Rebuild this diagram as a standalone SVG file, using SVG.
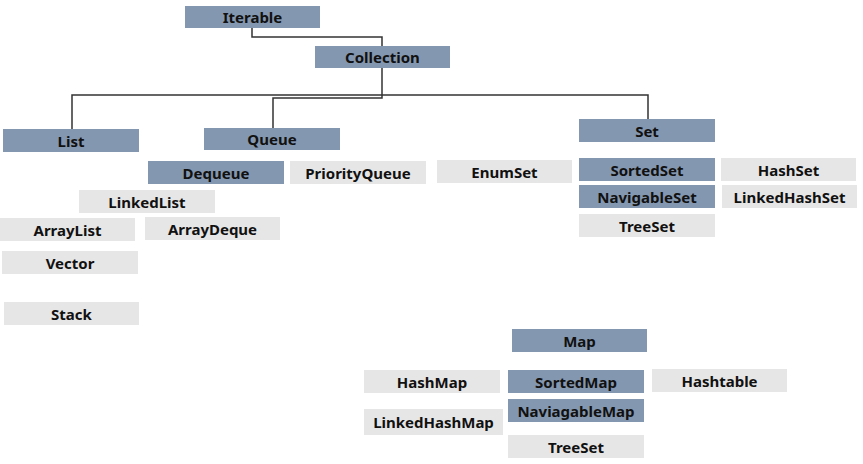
<svg xmlns="http://www.w3.org/2000/svg" width="863" height="464" viewBox="0 0 863 464">
<style>
.i{fill:#8497B0}
.c{fill:#E7E6E6}
text{font-family:"Noto Sans","Liberation Sans",sans-serif;font-weight:bold;font-size:15px;fill:#111;text-anchor:middle}
.ln{fill:none;stroke:#333;stroke-width:1.5}
</style>
<rect width="863" height="464" fill="#fff"/>
<g id="connectors">
<path class="ln" d="M252,28 V37 H382 V46"/>
<path class="ln" d="M382,68 V95"/>
<path class="ln" d="M72,129 V95 H648 V119"/>
<path class="ln" d="M382,95 V98 H273 V128"/>
</g>
<g id="Iterable"><rect class="i" x="185" y="6" width="135" height="22"/><text x="252.5" y="22.5">Iterable</text></g>
<g id="Collection"><rect class="i" x="315" y="46" width="135" height="22"/><text x="382.5" y="62.5">Collection</text></g>
<g id="List"><rect class="i" x="3" y="129" width="136" height="23"/><text x="71" y="146.5">List</text></g>
<g id="Queue"><rect class="i" x="204" y="128" width="136" height="22"/><text x="272" y="144.5">Queue</text></g>
<g id="Set"><rect class="i" x="579" y="119" width="136" height="23"/><text x="647" y="136.5">Set</text></g>
<g id="Dequeue"><rect class="i" x="148" y="161" width="136" height="23"/><text x="216" y="178.5">Dequeue</text></g>
<g id="PriorityQueue"><rect class="c" x="290" y="161" width="136" height="23"/><text x="358" y="178.5">PriorityQueue</text></g>
<g id="LinkedList"><rect class="c" x="79" y="190" width="136" height="23"/><text x="147" y="207.5">LinkedList</text></g>
<g id="ArrayList"><rect class="c" x="0" y="218" width="135" height="23"/><text x="67.5" y="235.5">ArrayList</text></g>
<g id="ArrayDeque"><rect class="c" x="145" y="217" width="135" height="23"/><text x="212.5" y="234.5">ArrayDeque</text></g>
<g id="Vector"><rect class="c" x="2" y="251" width="136" height="23"/><text x="70" y="268.5">Vector</text></g>
<g id="Stack"><rect class="c" x="4" y="302" width="135" height="23"/><text x="71.5" y="319.5">Stack</text></g>
<g id="EnumSet"><rect class="c" x="437" y="160" width="135" height="23"/><text x="504.5" y="177.5">EnumSet</text></g>
<g id="SortedSet"><rect class="i" x="579" y="158" width="136" height="23"/><text x="647" y="175.5">SortedSet</text></g>
<g id="HashSet"><rect class="c" x="721" y="158" width="135" height="23"/><text x="788.5" y="175.5">HashSet</text></g>
<g id="NavigableSet"><rect class="i" x="579" y="185" width="136" height="23"/><text x="647" y="202.5">NavigableSet</text></g>
<g id="LinkedHashSet"><rect class="c" x="722" y="185" width="135" height="23"/><text x="789.5" y="202.5">LinkedHashSet</text></g>
<g id="TreeSet"><rect class="c" x="579" y="214" width="136" height="23"/><text x="647" y="231.5">TreeSet</text></g>
<g id="Map"><rect class="i" x="512" y="329" width="135" height="23"/><text x="579.5" y="346.5">Map</text></g>
<g id="HashMap"><rect class="c" x="364" y="370" width="136" height="23"/><text x="432" y="387.5">HashMap</text></g>
<g id="SortedMap"><rect class="i" x="508" y="370" width="136" height="23"/><text x="576" y="387.5">SortedMap</text></g>
<g id="Hashtable"><rect class="c" x="652" y="369" width="135" height="23"/><text x="719.5" y="386.5">Hashtable</text></g>
<g id="NaviagableMap"><rect class="i" x="508" y="399" width="136" height="23"/><text x="576" y="416.5">NaviagableMap</text></g>
<g id="LinkedHashMap"><rect class="c" x="364" y="409" width="139" height="26"/><text x="433.5" y="427.5">LinkedHashMap</text></g>
<g id="TreeSet2"><rect class="c" x="508" y="435" width="136" height="23"/><text x="576" y="452.5">TreeSet</text></g>
</svg>
